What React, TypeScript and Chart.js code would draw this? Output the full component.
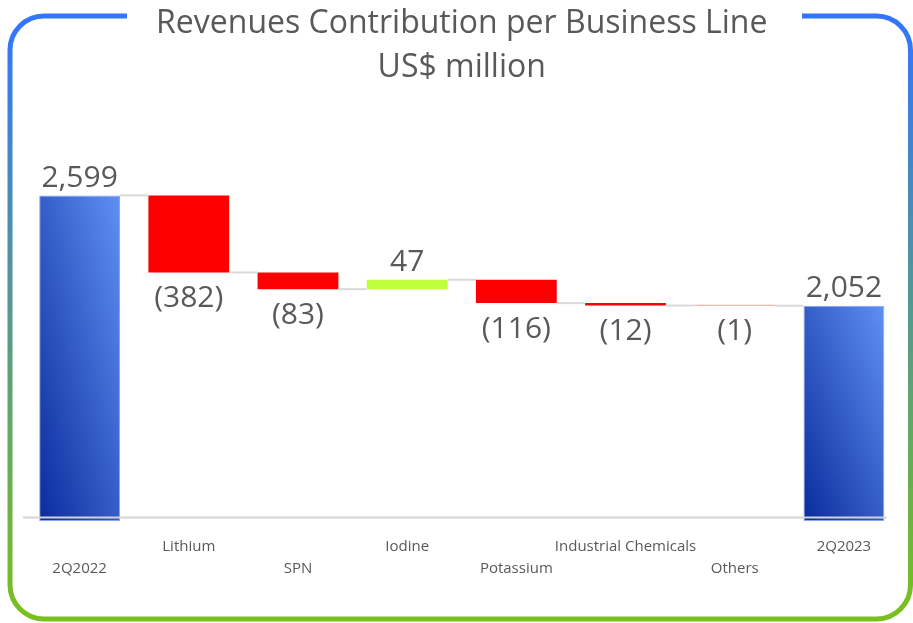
import React, { useEffect, useRef } from "react";
import { Chart, registerables } from "chart.js";

Chart.register(...registerables);

// ---- data ----
const categories = ["2Q2022", "Lithium", "SPN", "Iodine", "Potassium", "Industrial Chemicals", "Others", "2Q2023"];
const changes = [2599, -382, -83, 47, -116, -12, -1, 2052];
const isTotal = [true, false, false, false, false, false, false, true];
const valueLabels = ["2,599", "(382)", "(83)", "47", "(116)", "(12)", "(1)", "2,052"];
const labelRow = [2, 1, 2, 1, 2, 1, 2, 1];
const titleLines = ["Revenues Contribution per Business Line", "US$ million"];

const Y_MIN = 985;
const Y_MAX = 3057;

const FONT = "'Open Sans', 'Noto Sans', sans-serif";
const TEXT = "#595959";
const RED = "#ff0000";
const LIME = "#bfff3c";
const CONNECTOR = "#d9d9d9";

function buildFloating(): number[][] {
  let run = 0;
  return changes.map((v, i) => {
    if (isTotal[i]) {
      run = v;
      return [Y_MIN, v];
    }
    const start = run;
    run += v;
    return [start, run];
  });
}

const framePlugin = {
  id: "frame",
  beforeDraw(chart: any) {
    const { ctx } = chart;
    const L = 10, T = 16, R = 910.5, B = 619, r = 34, gapL = 127, gapR = 802;
    ctx.save();
    const g = ctx.createLinearGradient(0, T, 0, B);
    g.addColorStop(0, "#3275ff");
    g.addColorStop(1, "#7ac01c");
    ctx.strokeStyle = g;
    ctx.lineWidth = 5;
    ctx.beginPath();
    ctx.moveTo(gapL, T);
    ctx.lineTo(L + r, T);
    ctx.arcTo(L, T, L, T + r, r);
    ctx.lineTo(L, B - r);
    ctx.arcTo(L, B, L + r, B, r);
    ctx.lineTo(R - r, B);
    ctx.arcTo(R, B, R, B - r, r);
    ctx.lineTo(R, T + r);
    ctx.arcTo(R, T, R - r, T, r);
    ctx.lineTo(gapR, T);
    ctx.stroke();
    ctx.restore();
  },
};

const waterfallPlugin = {
  id: "waterfallExtras",
  afterDatasetsDraw(chart: any) {
    const { ctx, chartArea } = chart;
    const meta = chart.getDatasetMeta(0);
    const bars = meta.data;
    ctx.save();
    // connectors
    ctx.strokeStyle = CONNECTOR;
    ctx.lineWidth = 2;
    const floating = buildFloating();
    for (let i = 0; i < bars.length - 1; i++) {
      const a = bars[i];
      const b = bars[i + 1];
      const level = floating[i][1];
      const y = chart.scales.y.getPixelForValue(level);
      ctx.beginPath();
      ctx.moveTo(a.x + a.width / 2, y);
      ctx.lineTo(b.x - b.width / 2, y);
      ctx.stroke();
    }
    // axis line
    const axisY = chartArea.bottom - 3.5;
    ctx.strokeStyle = "#d4d4d4";
    ctx.lineWidth = 2;
    ctx.beginPath();
    ctx.moveTo(chartArea.left - 2, axisY);
    ctx.lineTo(chartArea.right - 12, axisY);
    ctx.stroke();
    // value labels
    ctx.fillStyle = TEXT;
    ctx.font = `30px ${FONT}`;
    ctx.textAlign = "center";
    ctx.textBaseline = "middle";
    bars.forEach((el: any, i: number) => {
      const top = Math.min(el.y, el.base);
      const bottom = Math.max(el.y, el.base);
      if (isTotal[i] || changes[i] > 0) {
        ctx.fillText(valueLabels[i], el.x, top - 17);
      } else {
        ctx.fillText(valueLabels[i], el.x, bottom + 26);
      }
    });
    ctx.restore();
  },
};

export default function App() {
  const canvasRef = useRef<HTMLCanvasElement | null>(null);

  useEffect(() => {
    const canvas = canvasRef.current;
    if (!canvas) return;
    const floating = buildFloating();
    const chart = new Chart(canvas, {
      type: "bar",
      data: {
        labels: categories,
        datasets: [
          {
            data: floating as any,
            backgroundColor: (c: any) => {
              const i = c.dataIndex;
              if (!isTotal[i]) return changes[i] < 0 ? (Math.abs(changes[i]) < 5 ? "#ff9a9a" : RED) : LIME;
              const ch = c.chart;
              const area = ch.chartArea;
              if (!area || !ch.scales.x || !ch.scales.y) return "#3a64d4";
              const meta = ch.getDatasetMeta(0);
              const el = meta.data[i];
              const w = el && el.width ? el.width : 81;
              const x = ch.scales.x.getPixelForValue(i);
              const yTop = ch.scales.y.getPixelForValue(changes[i]);
              const yBot = area.bottom;
              const h = Math.max(1, yBot - yTop);
              const a = 1 / (2 * w);
              const b = 1 / (2 * h);
              const d2 = a * a + b * b;
              const x0 = x - w / 2;
              const g = ch.ctx.createLinearGradient(x0, yBot, x0 + a / d2, yBot - b / d2);
              g.addColorStop(0, "#0a2c9c");
              g.addColorStop(1, "#5f90f3");
              return g;
            },
            borderColor: (c: any) => (isTotal[c.dataIndex] ? "#86a4f2" : "rgba(0,0,0,0)"),
            borderWidth: (c: any) => (isTotal[c.dataIndex] ? 1 : 0),
            borderSkipped: false,
            minBarLength: 1,
            barPercentage: 0.74,
            categoryPercentage: 1,
          },
        ],
      },
      options: {
        responsive: false,
        animation: false,
        devicePixelRatio: 1,
        layout: { padding: { left: 25, right: 14.5, top: 0, bottom: 28 } },
        plugins: {
          legend: { display: false },
          tooltip: { enabled: false },
          title: {
            display: true,
            text: titleLines,
            color: TEXT,
            font: { family: FONT, size: 32, weight: "normal", lineHeight: 1.375 },
            padding: { top: 2, bottom: 13 },
          },
        },
        scales: {
          x: {
            grid: { display: false, drawTicks: false },
            border: { display: false },
            ticks: {
              color: TEXT,
              font: { family: FONT, size: 15, lineHeight: 1.467 },
              padding: 15,
              maxRotation: 0,
              minRotation: 0,
              autoSkip: false,
              callback: (_v: any, i: number) =>
                labelRow[i] === 1 ? [categories[i], ""] : ["", categories[i]],
            },
          },
          y: {
            display: false,
            min: Y_MIN,
            max: Y_MAX,
          },
        },
      },
      plugins: [framePlugin, waterfallPlugin],
    });
    return () => chart.destroy();
  }, []);

  return (
    <div style={{ position: "fixed", left: 0, top: 0, width: 913, height: 623, background: "#fff" }}>
      <canvas ref={canvasRef} width={913} height={623} style={{ display: "block", width: 913, height: 623 }} />
    </div>
  );
}
